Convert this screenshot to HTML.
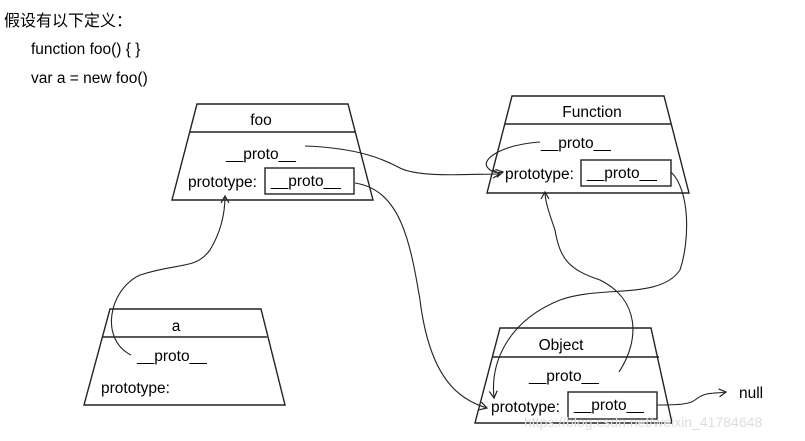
<!DOCTYPE html>
<html><head><meta charset="utf-8"><style>
body{margin:0;background:#fff}
svg{display:block}
text{font-family:"Liberation Sans","Noto Sans CJK SC",sans-serif;font-size:15.5px;fill:#000}
</style></head><body>
<svg width="805" height="441" viewBox="0 0 805 441">
<defs><marker id="ar" markerWidth="10" markerHeight="10" refX="8" refY="5" orient="auto" markerUnits="userSpaceOnUse"><path d="M1,1 L8,5 L1,9" fill="none" stroke="#222" stroke-width="1.2"/></marker></defs>
<text x="4" y="26" style="font-size:16px">假设有以下定义：</text>
<text x="31" y="54">function foo() { }</text>
<text x="31" y="83">var a = new foo()</text>
<g fill="none" stroke="#222" stroke-width="1.4">
<path d="M197,104 L348,104 L373,200 L172,200 Z"/><line x1="190" y1="132" x2="355" y2="132"/>
<rect x="265" y="168" width="89" height="26"/>
<path d="M512,96 L664,96 L689,193 L487,193 Z"/><line x1="505" y1="124" x2="671" y2="124"/>
<rect x="581" y="160" width="90" height="26"/>
<path d="M110,309 L261,309 L285,405 L84,405 Z"/><line x1="102" y1="337" x2="267" y2="337"/>
<path d="M500,328 L651,328 L672,423 L475,423 Z"/><line x1="493" y1="357" x2="659" y2="357"/>
<rect x="568" y="392" width="89" height="27"/>
</g>
<g fill="none" stroke="#222" stroke-width="1.1" marker-end="url(#ar)">
<path d="M305,146 C360,148 385,160 400,168 C420,178 470,174 500,174"/>
<path d="M540,142 C500,145 480,160 488,168 C492,173 498,173 503,172"/>
<path d="M355,183 C400,190 410,240 420,300 C430,380 460,400 487,408"/>
<path d="M131,355 C100,340 108,290 140,275 C180,262 195,270 210,250 C222,230 225,210 225,196"/>
<path d="M671,172 C690,190 690,240 680,270 C660,300 600,285 560,300 C510,320 490,360 494,398"/>
<path d="M619,372 C640,340 640,300 600,280 C570,270 560,260 555,230 C548,210 545,200 545,192"/>
<path d="M657,405 C680,405 690,404 695,400 C705,392 710,394 726,392"/>
</g>
<text x="261" y="125" text-anchor="middle">foo</text>
<text x="226" y="159">__proto__</text>
<text x="188" y="187">prototype:</text>
<text x="271" y="186">__proto__</text>
<text x="592" y="117" text-anchor="middle">Function</text>
<text x="541" y="148">__proto__</text>
<text x="505" y="179">prototype:</text>
<text x="587" y="178">__proto__</text>
<text x="176" y="331" text-anchor="middle">a</text>
<text x="137" y="361">__proto__</text>
<text x="101" y="393">prototype:</text>
<text x="561" y="350" text-anchor="middle">Object</text>
<text x="529" y="381">__proto__</text>
<text x="491" y="412">prototype:</text>
<text x="574" y="410">__proto__</text>
<text x="739" y="398">null</text>
<text x="524" y="427" style="font-size:14px;fill:#ddd">https://blog.csdn.net/weixin_41784648</text>
</svg>
</body></html>
